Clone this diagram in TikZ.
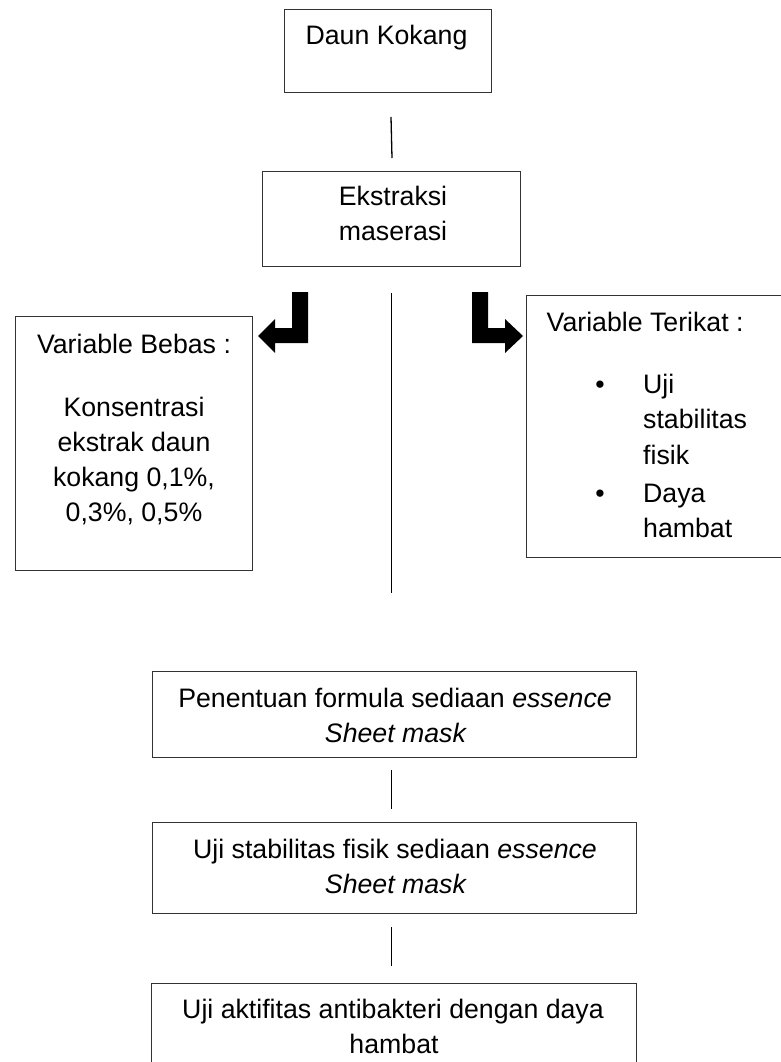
\documentclass[tikz,border=0pt]{standalone}
\usepackage{fontspec}
\setmainfont{Liberation Sans}
\begin{document}
\begin{tikzpicture}[x=1pt,y=-1pt,
  box/.style={draw=black!80, line width=1pt, inner sep=0pt, outer sep=0pt},
  txt/.style={inner sep=0pt, anchor=base, font=\fontsize{26.7}{35}\selectfont},
  ltxt/.style={txt, anchor=base west},
  conn/.style={draw=black, line width=1.3pt},
  bent/.style={fill=black}]
\useasboundingbox (0,0) rectangle (781,1062);
\clip (0,0) rectangle (781,1062);
% boxes
\node[box, minimum width=207pt, minimum height=83pt] (daun) at (387.5,51) {};
\node[box, minimum width=258pt, minimum height=95pt] (ekstr) at (391,218.5) {};
\node[box, minimum width=237.5pt, minimum height=254pt] (bebas) at (133.75,443) {};
\node[box, minimum width=274pt, minimum height=262pt] (terikat) at (663,426) {};
\node[box, minimum width=484pt, minimum height=86pt] (formula) at (394.5,714) {};
\node[box, minimum width=484pt, minimum height=91pt] (stabil) at (394.5,867.5) {};
\node[box, minimum width=485pt, minimum height=97pt] (aktif) at (394,1031.5) {};
% texts
\node[txt] (t1) at (386.5,45) {Daun Kokang};
\node[txt] (t2a) at (393,205) {Ekstraksi};
\node[txt] (t2b) at (393,240) {maserasi};
\node[txt] (t3a) at (134,353) {Variable Bebas :};
\node[txt] (t3b) at (134,416) {Konsentrasi};
\node[txt] (t3c) at (134,451) {ekstrak daun};
\node[txt] (t3d) at (134,486) {kokang 0,1\%,};
\node[txt] (t3e) at (134,521) {0,3\%, 0,5\%};
\node[ltxt] (t4a) at (546.5,331) {Variable Terikat :};
\node[txt] (b1) at (600,393) {•};
\node[ltxt] (t4b) at (643,393) {Uji};
\node[ltxt] (t4c) at (643,428) {stabilitas};
\node[ltxt] (t4d) at (643,464) {fisik};
\node[txt] (b2) at (600,502) {•};
\node[ltxt] (t4e) at (643,502) {Daya};
\node[ltxt] (t4f) at (643,537) {hambat};
\node[txt] (t5a) at (395,707) {Penentuan formula sediaan \textit{essence}};
\node[txt] (t5b) at (396,742) {\textit{Sheet mask}};
\node[txt] (t6a) at (395,858) {Uji stabilitas fisik sediaan \textit{essence}};
\node[txt] (t6b) at (396,893) {\textit{Sheet mask}};
\node[txt] (t7a) at (393,1018) {Uji aktifitas antibakteri dengan daya};
\node[txt] (t7b) at (394,1053) {hambat};
% connector end points
\coordinate (l1a) at (391,117);
\coordinate (l1b) at (392,158);
\coordinate (l2a) at (391.5,293);
\coordinate (l2b) at (391.5,593);
\coordinate (l3a) at (391.5,770);
\coordinate (l3b) at (391.5,809);
\coordinate (l4a) at (391.5,927);
\coordinate (l4b) at (391.5,966);
\draw[conn] (l1a) -- (l1b);
\draw[conn] (l2a) -- (l2b);
\draw[conn] (l3a) -- (l3b);
\draw[conn] (l4a) -- (l4b);
% bent arrows
\fill[bent] (308,292) -- (308,343) -- (275,343) -- (275,353) -- (258,336) -- (275,319) -- (275,328) -- (292,328) -- (292,292) -- cycle;
\fill[bent] (472,292) -- (488,292) -- (488,328) -- (505,328) -- (505,319) -- (523,336) -- (505,353) -- (505,343) -- (472,343) -- cycle;
\end{tikzpicture}
\end{document}
